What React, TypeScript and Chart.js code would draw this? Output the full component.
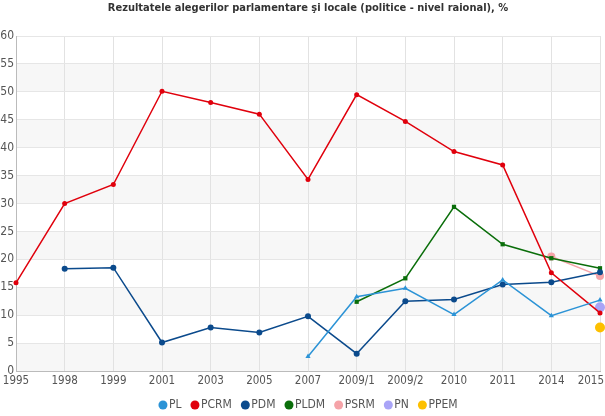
import React, { useEffect, useRef } from "react";
import { Chart, registerables } from "chart.js";

Chart.register(...registerables);

const categories = ["1995", "1998", "1999", "2001", "2003", "2005", "2007", "2009/1", "2009/2", "2010", "2011", "2014", "2015"];
const PL = [null, null, null, null, null, null, 2.6, 13.3, 14.8, 10.1, 16.3, 9.9, 12.7];
const PCRM = [15.8, 30.0, 33.4, 50.1, 48.1, 46.0, 34.3, 49.5, 44.7, 39.3, 36.9, 17.6, 10.4];
const PDM = [null, 18.3, 18.5, 5.1, 7.8, 6.9, 9.8, 3.1, 12.5, 12.8, 15.5, 15.9, 17.7];
const PLDM = [null, null, null, null, null, null, null, 12.4, 16.6, 29.4, 22.7, 20.2, 18.4];
const PSRM = [null, null, null, null, null, null, null, null, null, null, null, 20.5, 17.0];
const PN = [null, null, null, null, null, null, null, null, null, null, null, null, 11.4];
const PPEM = [null, null, null, null, null, null, null, null, null, null, null, null, 7.8];
const yTicks = [0, 5, 10, 15, 20, 25, 30, 35, 40, 45, 50, 55, 60];
const bandStarts = [0, 10, 20, 30, 40, 50];
const TITLE = "Rezultatele alegerilor parlamentare şi locale (politice - nivel raional), %";

const FONT = "'DejaVu Sans Condensed', 'DejaVu Sans', sans-serif";

const bandsPlugin = {
  id: "bands",
  beforeDraw(chart: any) {
    const { ctx, chartArea, scales } = chart;
    const y = scales.y;
    ctx.save();
    ctx.fillStyle = "#f7f7f7";
    for (const b of bandStarts) {
      const top = y.getPixelForValue(b + 5);
      const bot = y.getPixelForValue(b);
      ctx.fillRect(chartArea.left, top, chartArea.right - chartArea.left, bot - top);
    }
    ctx.restore();
  },
};

const textPlugin = {
  id: "texts",
  afterDraw(chart: any) {
    const { ctx, chartArea, scales, width } = chart;
    const cx = (chartArea.left + chartArea.right) / 2;
    ctx.save();
    // title
    ctx.font = `bold 11px ${FONT}`;
    ctx.fillStyle = "#333333";
    ctx.textAlign = "center";
    ctx.textBaseline = "middle";
    ctx.fillText(TITLE, cx, 8);
    // x labels
    ctx.font = `11.5px ${FONT}`;
    ctx.fillStyle = "#555555";
    ctx.textBaseline = "middle";
    ctx.textAlign = "left";
    const x = scales.x;
    categories.forEach((c, i) => {
      const px = x.getPixelForTick(i);
      const w = ctx.measureText(c).width;
      let left = px - w / 2;
      if (left < 1) left = 1;
      if (left + w > width - 1) left = width - 1 - w;
      ctx.fillText(c, left, chartArea.bottom + 10);
    });
    // legend
    ctx.font = `12px ${FONT}`;
    const items = chart.data.datasets.map((d: any) => ({ label: d.label, color: d.borderColor, w: ctx.measureText(d.label).width }));
    const r = 4.5, gap = 1.5, spacing = 9;
    const total = items.reduce((s: number, it: any) => s + 2 * r + gap + it.w, 0) + spacing * (items.length - 1);
    let cur = cx - total / 2;
    const ly = 405;
    for (const it of items) {
      ctx.fillStyle = it.color;
      ctx.beginPath();
      ctx.arc(cur + r, ly, r, 0, Math.PI * 2);
      ctx.fill();
      ctx.fillStyle = "#555555";
      ctx.fillText(it.label, cur + 2 * r + gap, ly);
      cur += 2 * r + gap + it.w + spacing;
    }
    ctx.restore();
  },
};

export default function App() {
  const ref = useRef<HTMLCanvasElement>(null);
  useEffect(() => {
    document.body.style.margin = "0";
    const mk = (label: string, data: any[], color: string, style: string, r: number) => ({
      label,
      data,
      borderColor: color,
      backgroundColor: color,
      pointBackgroundColor: color,
      pointBorderColor: color,
      pointStyle: style,
      pointRadius: r,
      pointBorderWidth: 0,
      borderWidth: 1.5,
      tension: 0,
      fill: false,
    });
    const chart = new Chart(ref.current!, {
      type: "line",
      data: {
        labels: categories,
        datasets: [
          mk("PL", PL, "#2b93d6", "triangle", 3),
          mk("PCRM", PCRM, "#e0000c", "circle", 2.5),
          mk("PDM", PDM, "#0b4a8c", "circle", 3),
          mk("PLDM", PLDM, "#0a6e0a", "rect", 3),
          mk("PSRM", PSRM, "#f5a3a8", "circle", 4),
          mk("PN", PN, "#a9a4f7", "circle", 5),
          mk("PPEM", PPEM, "#fdc000", "circle", 5),
        ] as any,
      },
      options: {
        animation: false,
        responsive: false,
        devicePixelRatio: 1,
        layout: { padding: { left: 0, right: 5, top: 36, bottom: 45 } },
        plugins: {
          title: { display: false },
          legend: { display: false },
          tooltip: { enabled: false },
        },
        scales: {
          x: {
            offset: false,
            grid: { color: "#e2e2e2", drawTicks: false },
            border: { color: "#bbbbbb" },
            ticks: { display: false },
            afterFit(scale: any) { scale.height = 0; scale.paddingLeft = 0; scale.paddingRight = 0; },
          },
          y: {
            min: 0,
            max: 60,
            afterBuildTicks(scale: any) { scale.ticks = yTicks.map((v) => ({ value: v })); },
            grid: { color: "#e6e6e6", drawTicks: false },
            border: { color: "#bbbbbb" },
            ticks: { color: "#555555", font: { family: FONT, size: 12 }, padding: 2 },
            afterFit(scale: any) { scale.width = 16; },
          },
        },
      },
      plugins: [bandsPlugin, textPlugin],
    });
    return () => chart.destroy();
  }, []);
  return <canvas ref={ref} width={605} height={416} style={{ display: "block" }} />;
}
